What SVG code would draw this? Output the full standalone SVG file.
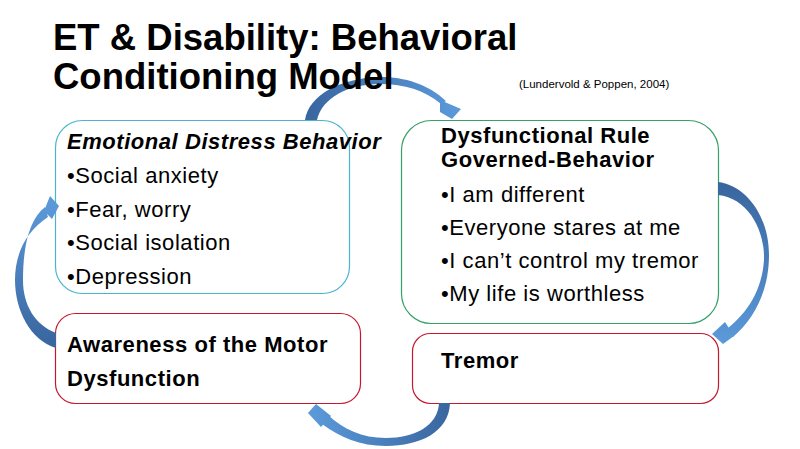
<svg xmlns="http://www.w3.org/2000/svg" width="800" height="449" viewBox="0 0 800 449">
<defs>
<style>
.t{font-family:"Liberation Sans",Arial,sans-serif;fill:#000}
.title{font-size:36.5px;font-weight:bold}
.cite{font-size:11.5px}
.h{font-size:22px;font-weight:bold;letter-spacing:0.55px}
.b{font-size:22px;letter-spacing:0.55px}
.box{fill:#fff;stroke-width:1.2}
.arr{stroke:none}
</style>
<linearGradient id="g1" gradientUnits="userSpaceOnUse" x1="310" y1="120" x2="455" y2="112"><stop offset="0" stop-color="#3a67a0"/><stop offset="1" stop-color="#5a98d8"/></linearGradient>
<linearGradient id="g2" gradientUnits="userSpaceOnUse" x1="720" y1="188" x2="718" y2="338"><stop offset="0" stop-color="#3a67a0"/><stop offset="1" stop-color="#5a98d8"/></linearGradient>
<linearGradient id="g3" gradientUnits="userSpaceOnUse" x1="445" y1="405" x2="315" y2="415"><stop offset="0" stop-color="#3a67a0"/><stop offset="1" stop-color="#5a98d8"/></linearGradient>
<linearGradient id="g4" gradientUnits="userSpaceOnUse" x1="56" y1="340" x2="52" y2="206"><stop offset="0" stop-color="#3a67a0"/><stop offset="1" stop-color="#5a98d8"/></linearGradient>
</defs>
<rect width="800" height="449" fill="#fff"/>

<g id="node-emotional">
<rect class="box" x="55.5" y="120.5" width="294" height="173" rx="27" stroke="#4bb3cf"/>
<text class="t h" x="67" y="149" font-style="italic">Emotional Distress Behavior</text>
<text class="t b" x="67" y="183">•Social anxiety</text>
<text class="t b" x="67" y="217">•Fear, worry</text>
<text class="t b" x="67" y="250">•Social isolation</text>
<text class="t b" x="67" y="284">•Depression</text>
</g>

<g id="node-dysfunctional">
<rect class="box" x="401.5" y="120.5" width="317" height="203" rx="30" stroke="#35a067"/>
<text class="t h" x="441" y="143">Dysfunctional Rule</text>
<text class="t h" x="441" y="167">Governed-Behavior</text>
<text class="t b" x="441" y="202">•I am different</text>
<text class="t b" x="441" y="235">•Everyone stares at me</text>
<text class="t b" x="441" y="268">•I can’t control my tremor</text>
<text class="t b" x="441" y="301">•My life is worthless</text>
</g>

<g id="node-awareness">
<rect class="box" x="55.5" y="313.5" width="305" height="90" rx="20" stroke="#c3182e"/>
<text class="t h" x="67" y="352" letter-spacing="0.75">Awareness of the Motor</text>
<text class="t h" x="67" y="386" letter-spacing="0.75">Dysfunction</text>
</g>

<g id="node-tremor">
<rect class="box" x="412.5" y="333.5" width="306" height="70" rx="18" stroke="#c3182e"/>
<text class="t h" x="441" y="368" letter-spacing="0.75">Tremor</text>
</g>

<g id="connectors">
<path class="arr" fill="url(#g1)" d="M305,120 C309,95 340,78 380,77 C405,77 428,84 446,101 L441,104 C424,90 405,84 380,84 C348,84 322,98 317,120 Z"/>
<polygon class="arr" fill="url(#g1)" points="440,100 461,109 452,119 440,112"/>
<path class="arr" fill="url(#g2)" d="M718,182 C745,185 769,215 769,255 C769,290 755,318 733,337 L728,328 C748,312 762,290 764,260 C765,230 748,198 718,195 Z"/>
<polygon class="arr" fill="url(#g2)" points="725,322 734,336 723,344 712,334"/>
<path class="arr" fill="url(#g3)" d="M450,403 C449,432 420,446 386,446 C360,446 340,437 322,424 L328,415 C343,429 362,438 386,438 C414,438 438,426 439,403 Z"/>
<polygon class="arr" fill="url(#g3)" points="308,413 316,404 331,416 321,427"/>
<path class="arr" fill="url(#g4)" d="M56,348 C30,340 15,310 15,280 C15,255 25,232 48,217 L45,207 C28,220 23,250 23,280 C23,305 35,325 56,333 Z"/>
<polygon class="arr" fill="url(#g4)" points="50,196 59,206 52,219 44,211"/>
</g>

<g id="title">
<text class="t title" x="53" y="50">ET &amp; Disability: Behavioral</text>
<text class="t title" x="53" y="89">Conditioning Model</text>
<text class="t cite" x="519" y="88">(Lundervold &amp; Poppen, 2004)</text>
</g>
</svg>
